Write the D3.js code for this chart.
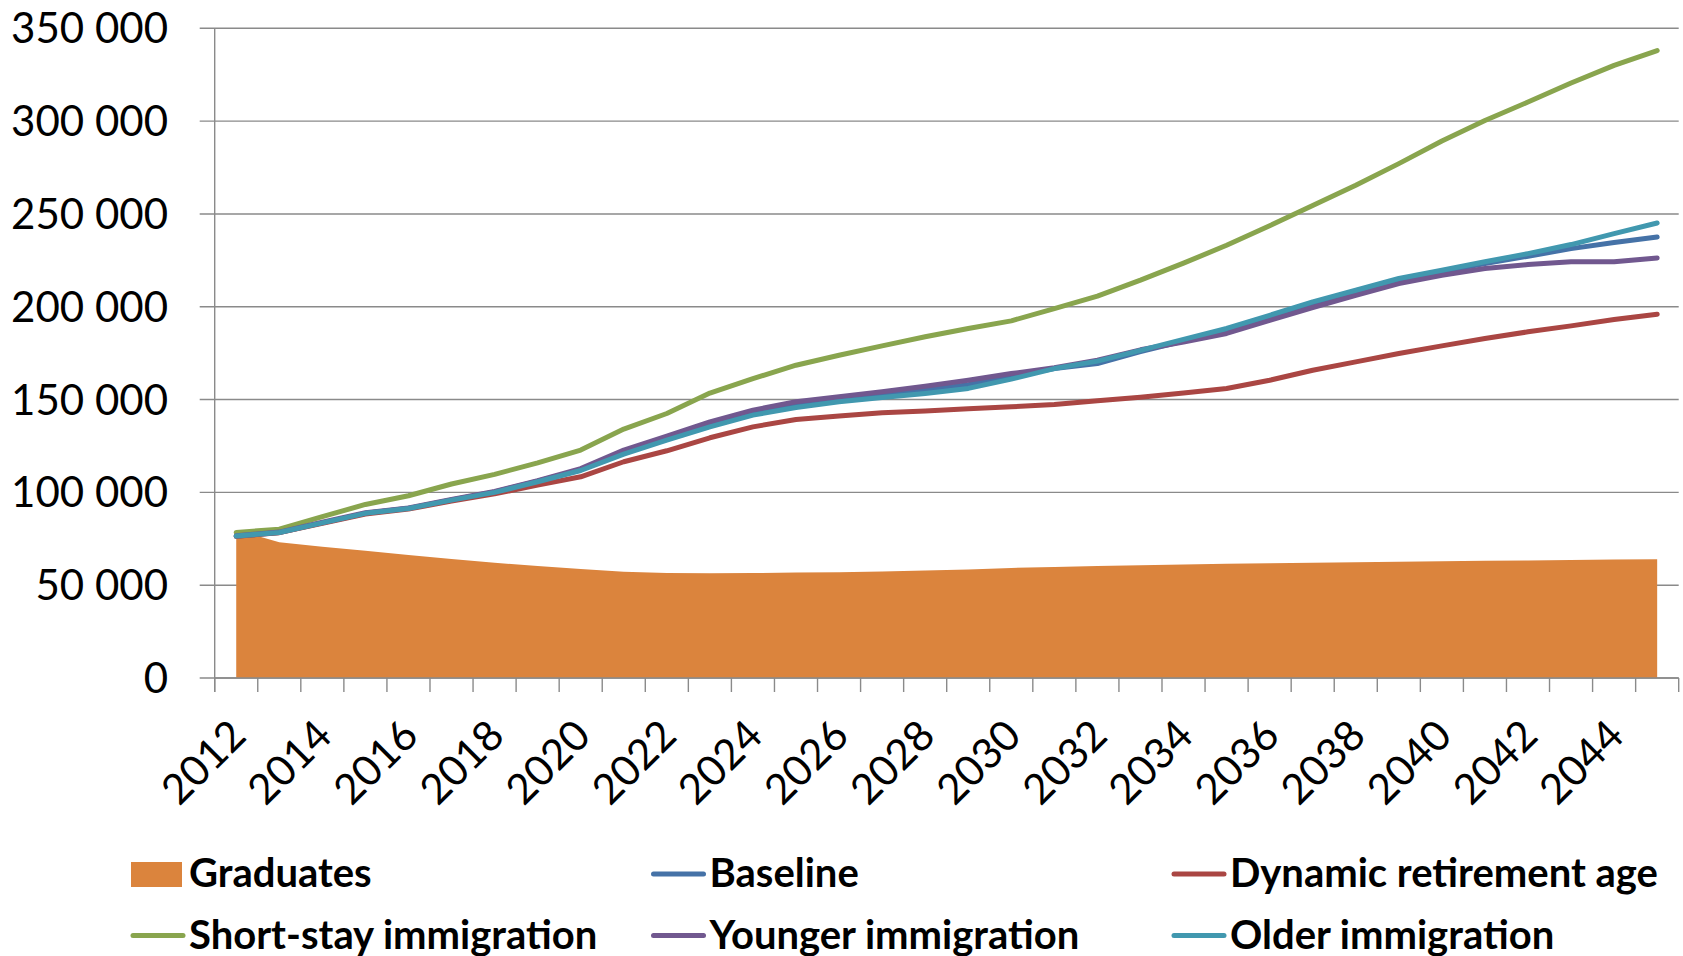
<!DOCTYPE html>
<html>
<head>
<meta charset="utf-8">
<script src="https://cdnjs.cloudflare.com/ajax/libs/d3/7.8.5/d3.min.js"></script>
<style>
  body { margin: 0; background: #ffffff; }
  text { font-family: Lato, "Open Sans", sans-serif; fill: #000; }
</style>
</head>
<body>
<div id="chart"></div>
<script>
// ---------- data ----------
var years = [2012, 2013, 2014, 2015, 2016, 2017, 2018, 2019, 2020, 2021, 2022, 2023,
             2024, 2025, 2026, 2027, 2028, 2029, 2030, 2031, 2032, 2033, 2034, 2035,
             2036, 2037, 2038, 2039, 2040, 2041, 2042, 2043, 2044, 2045]

var xLabels = [2012, 2014, 2016, 2018, 2020, 2022, 2024, 2026, 2028, 2030,
               2032, 2034, 2036, 2038, 2040, 2042, 2044]

var yTicks = [0, 50000, 100000, 150000, 200000, 250000, 300000, 350000]

var graduates = [79700, 73100, 70700, 68600, 66200, 64100, 62100, 60300, 58700, 57200, 56500, 56400,
                 56500, 56800, 57000, 57400, 57900, 58500, 59300, 59800, 60300, 60700, 61100, 61500,
                 61800, 62100, 62400, 62600, 62900, 63100, 63300, 63600, 63800, 64000]

var baseline = [76400, 78400, 83600, 88700, 91400, 95900, 100200, 106000, 112200, 121500, 129000, 136500,
                142800, 147000, 150000, 152500, 155000, 158000, 162500, 166700, 169400, 175800, 181500, 186800,
                194200, 201400, 208000, 214300, 218800, 223300, 227200, 231300, 234600, 237600]

var dynamicRetirement = [76300, 78300, 83300, 88300, 91000, 95300, 99200, 103900, 108400, 116500, 122400, 129400,
                         135300, 139300, 141100, 142900, 143900, 145000, 146100, 147300, 149300, 151300, 153500, 156000,
                         160400, 165800, 170300, 174800, 178900, 182900, 186500, 189700, 193100, 196000]

var shortStay = [78400, 80200, 86900, 93500, 98200, 104500, 109700, 115900, 122800, 134100, 142500, 153500,
                 161300, 168500, 173900, 178900, 183800, 188300, 192400, 199000, 205700, 214300, 223500, 233100,
                 243600, 254600, 265500, 277100, 289300, 300300, 310300, 320500, 330000, 338000]

var younger = [76600, 78600, 83900, 89000, 91600, 96200, 100500, 106300, 112800, 122800, 130300, 138000,
               144300, 148800, 151500, 154200, 157200, 160400, 164000, 167100, 171200, 176800, 181000, 185600,
               192700, 199600, 206200, 212500, 217000, 220600, 222700, 224200, 224200, 226300]

var older = [76500, 78400, 83600, 88700, 91300, 95800, 100000, 105700, 111800, 120600, 128100, 135300,
             141600, 145700, 148800, 151100, 153300, 156000, 161000, 166700, 170700, 176500, 182400, 188300,
             195400, 202600, 208900, 215200, 219700, 224200, 228600, 233500, 239400, 245100]

var seriesNames = ["Graduates", "Baseline", "Dynamic retirement age",
                   "Short-stay immigration", "Younger immigration", "Older immigration"]
var seriesColors = ["#DB843D", "#4572A7", "#AA4643", "#89A54E", "#71588F", "#4198AF"]

// ---------- setup ----------
var width = 1683, height = 956
var plotLeft = 214.7, plotRight = 1678.7, plotTop = 28.3, plotBottom = 678
var grey = "#8a8a8a"

var svg = d3.select("#chart")
  .append("svg")
    .attr("width", width)
    .attr("height", height)

var x = d3.scaleBand()
  .domain(years)
  .range([plotLeft, plotRight])
  .padding(0)

var y = d3.scaleLinear()
  .domain([0, 350000])
  .range([plotBottom, plotTop])

function cx(yr) { return x(yr) + x.bandwidth() / 2 }

// horizontal gridlines (with the small outside tick on the left)
svg.append("g")
  .selectAll("line")
  .data(yTicks)
  .enter()
  .append("line")
    .attr("x1", plotLeft - 15)
    .attr("x2", plotRight)
    .attr("y1", function(d) { return y(d) })
    .attr("y2", function(d) { return y(d) })
    .attr("stroke", grey)
    .attr("stroke-width", 1.4)

// y labels
var fmt = d3.format(",")
svg.append("g")
  .selectAll("text")
  .data(yTicks)
  .enter()
  .append("text")
    .attr("x", 168)
    .attr("y", function(d) { return y(d) })
    .attr("dy", "0.36em")
    .attr("text-anchor", "end")
    .style("font-size", "42px")
    .text(function(d) { return fmt(d).replace(/,/g, " ") })

// graduates area
var area = d3.area()
  .x(function(d, i) { return cx(years[i]) })
  .y0(y(0))
  .y1(function(d) { return y(d) })

svg.append("path")
  .datum(graduates)
  .attr("d", area)
  .style("fill", seriesColors[0])

// axes lines
svg.append("line")
  .attr("x1", plotLeft).attr("x2", plotLeft)
  .attr("y1", plotTop).attr("y2", plotBottom + 14)
  .attr("stroke", grey).attr("stroke-width", 1.4)

svg.append("line")
  .attr("x1", plotLeft).attr("x2", plotRight)
  .attr("y1", plotBottom).attr("y2", plotBottom)
  .attr("stroke", grey).attr("stroke-width", 1.4)

// x ticks between categories
var tickPos = years.map(function(d) { return x(d) }).concat([x.range()[1]])
svg.append("g")
  .selectAll("line")
  .data(tickPos)
  .enter()
  .append("line")
    .attr("x1", function(d) { return d })
    .attr("x2", function(d) { return d })
    .attr("y1", plotBottom)
    .attr("y2", plotBottom + 14)
    .attr("stroke", grey)
    .attr("stroke-width", 1.4)

// x labels, rotated
svg.append("g")
  .selectAll("text")
  .data(xLabels)
  .enter()
  .append("text")
    .attr("transform", function(d) { return "translate(" + (cx(d) + 12) + "," + (plotBottom + 60) + ") rotate(-45)" })
    .attr("text-anchor", "end")
    .style("font-size", "42px")
    .text(function(d) { return d })

// lines
var lineSeries = [baseline, dynamicRetirement, shortStay, younger, older]
var line = d3.line()
  .x(function(d, i) { return cx(years[i]) })
  .y(function(d) { return y(d) })

svg.append("g")
  .selectAll("path")
  .data(lineSeries)
  .enter()
  .append("path")
    .attr("d", function(d) { return line(d) })
    .attr("stroke", function(d, i) { return seriesColors[i + 1] })
    .style("stroke-width", 5)
    .style("stroke-linecap", "round")
    .style("stroke-linejoin", "round")
    .style("fill", "none")

// ---------- legend ----------
var legend = svg.append("g")
var items = legend.selectAll("g")
  .data(seriesNames)
  .enter()
  .append("g")
    .attr("transform", function(d, i) {
      return "translate(" + (131 + (i % 3) * 520.5) + "," + (874 + Math.floor(i / 3) * 61.5) + ")"
    })

items.each(function(d, i) {
  var g = d3.select(this)
  if (i == 0) {
    g.append("rect")
      .attr("x", 0).attr("y", -12)
      .attr("width", 51).attr("height", 25)
      .style("fill", seriesColors[0])
  } else {
    g.append("line")
      .attr("x1", 2).attr("x2", 52)
      .attr("y1", 0).attr("y2", 0)
      .attr("stroke", seriesColors[i])
      .style("stroke-width", 5)
      .style("stroke-linecap", "round")
  }
})

items.append("text")
  .attr("x", 58)
  .attr("y", 13)
  .style("font-size", "40px")
  .style("font-weight", "700")
  .text(function(d) { return d })
</script>
</body>
</html>
